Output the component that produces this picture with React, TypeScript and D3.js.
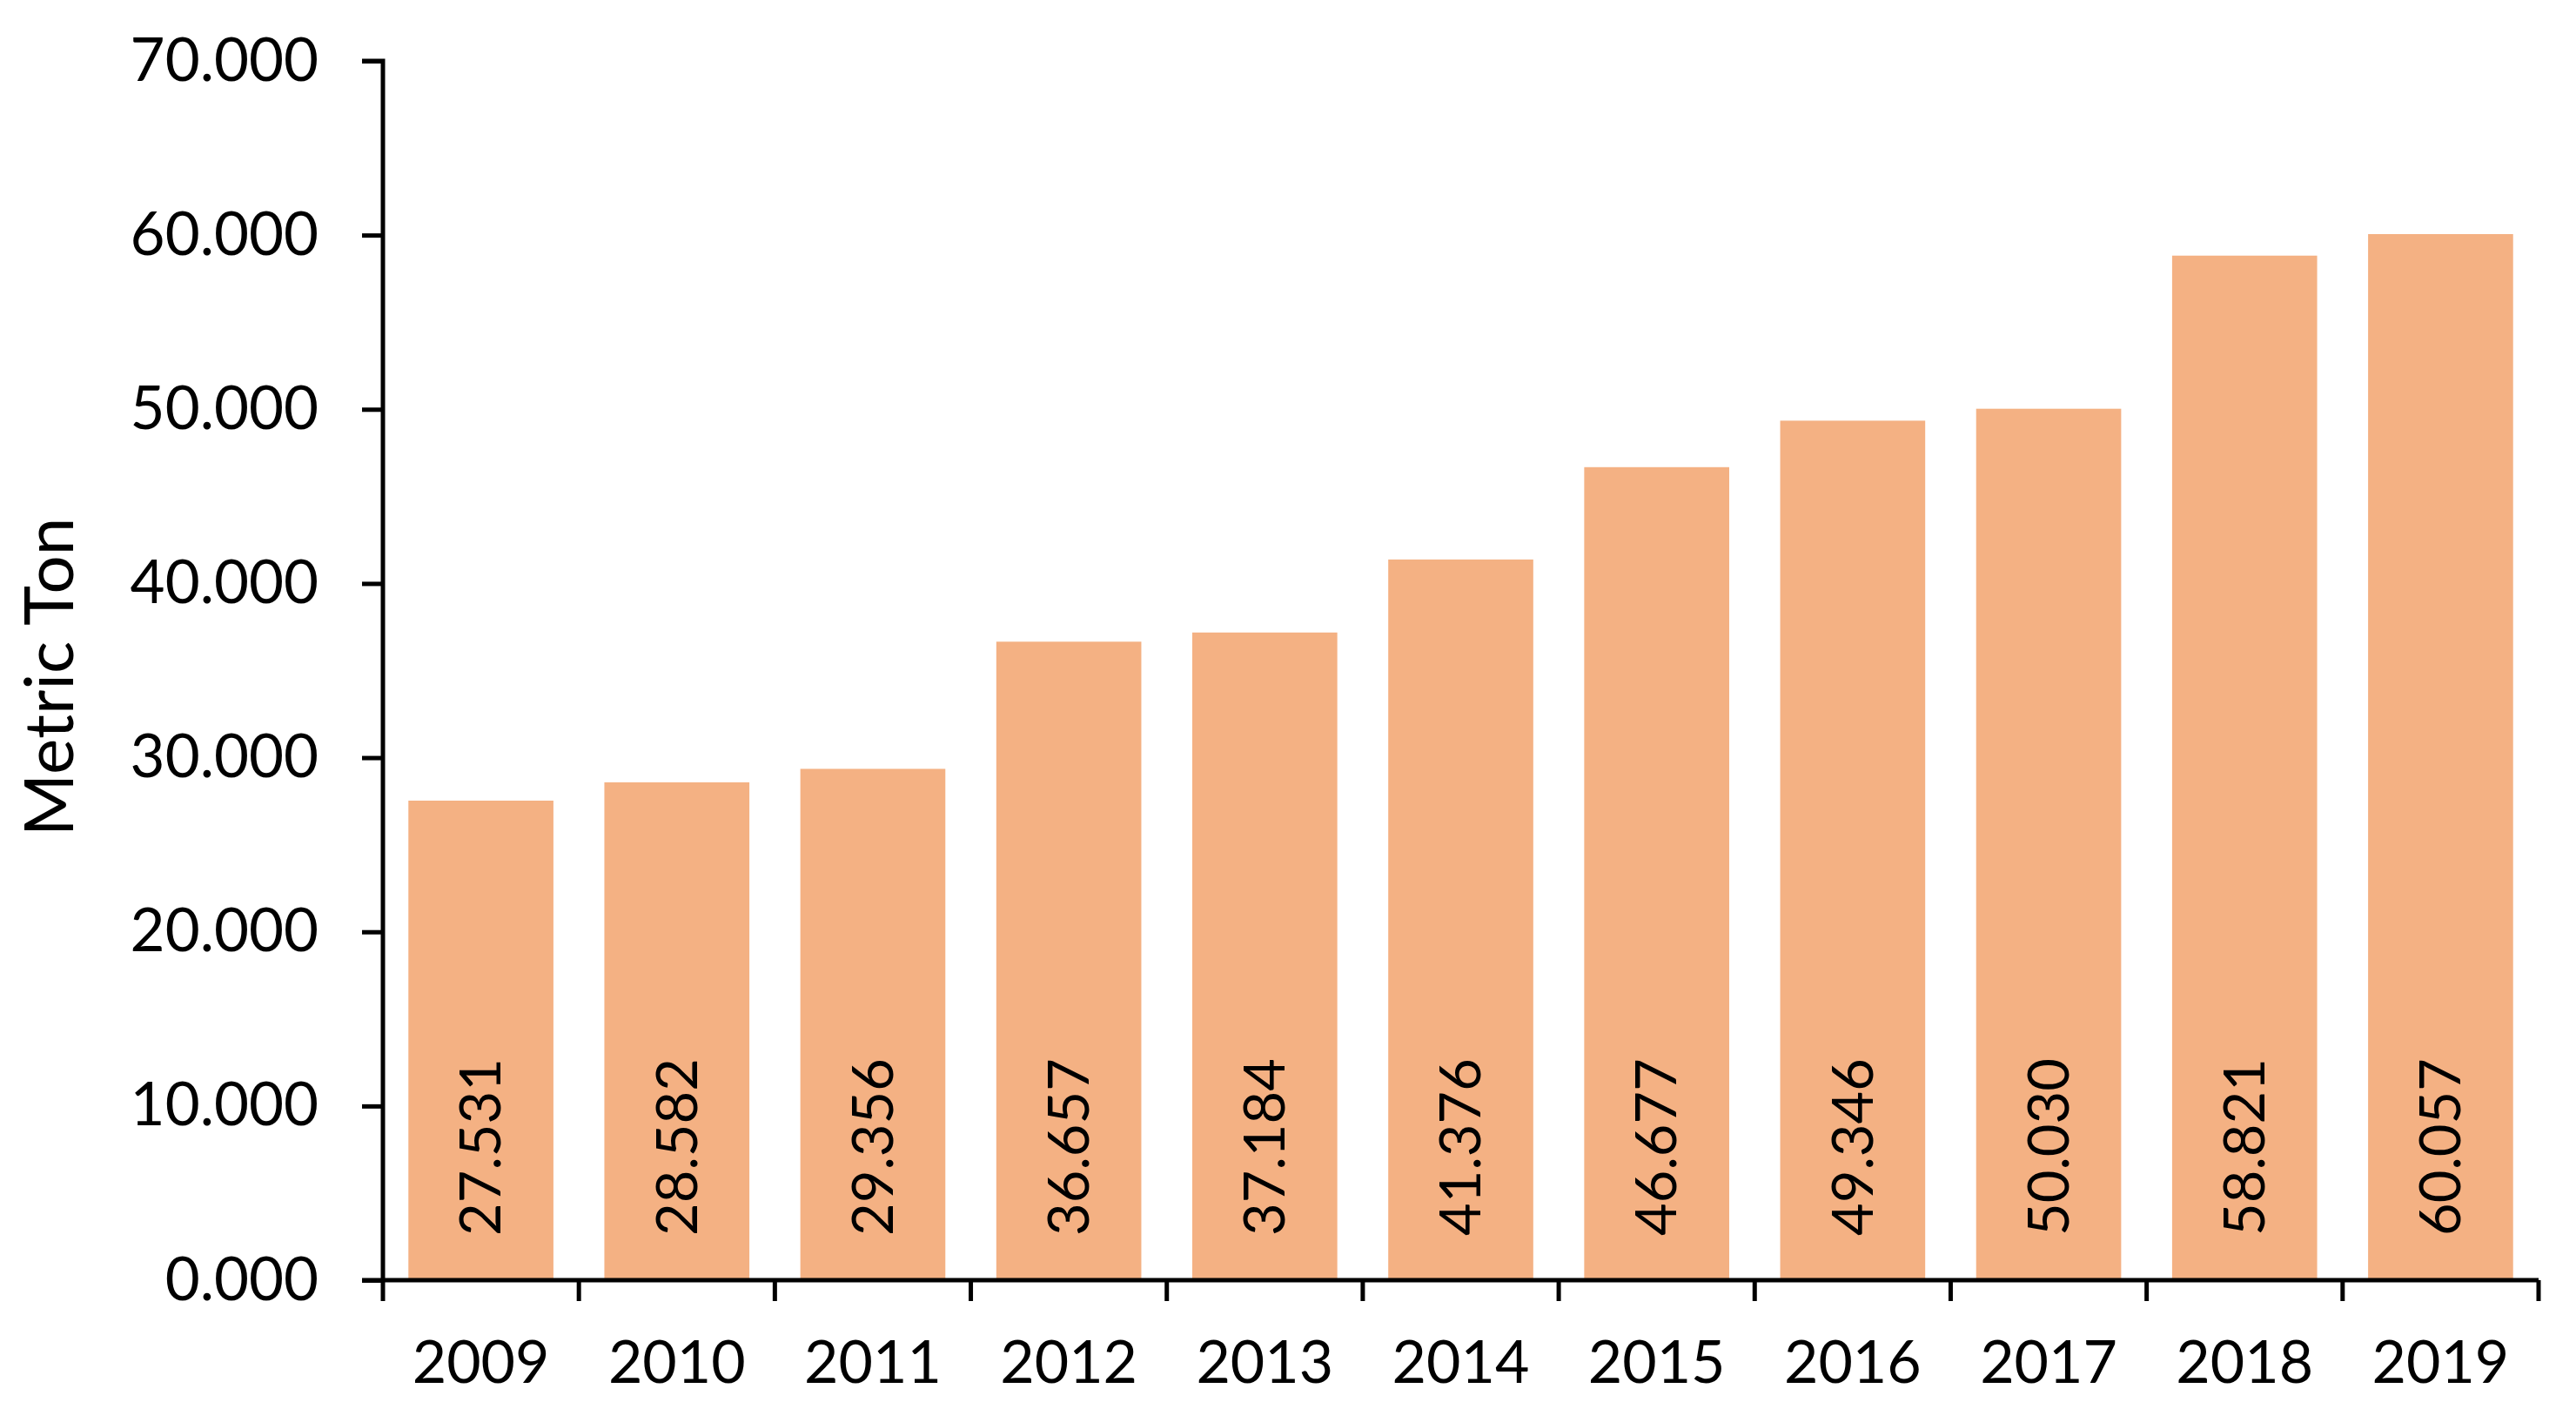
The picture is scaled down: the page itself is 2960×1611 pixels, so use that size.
import React, { useEffect, useRef } from "react";
import * as d3 from "d3";

const years = ["2009", "2010", "2011", "2012", "2013", "2014", "2015", "2016", "2017", "2018", "2019"];
const values = [27.531, 28.582, 29.356, 36.657, 37.184, 41.376, 46.677, 49.346, 50.03, 58.821, 60.057];
const yTicks = [0, 10, 20, 30, 40, 50, 60, 70];
const yTitle = "Metric Ton";

const W = 2960;
const H = 1611;
const FONT = "Lato, 'Open Sans', sans-serif";

export default function App() {
  const ref = useRef<SVGSVGElement>(null);
  useEffect(() => {
    const svg = d3.select(ref.current);
    svg.selectAll("*").remove();
    const left = 440, right = 2917, top = 70, bottom = 1471;
    const x = d3.scaleBand<string>().domain(years).range([left, right]).paddingInner(0.26).paddingOuter(0.13);
    const y = d3.scaleLinear().domain([0, 70]).range([bottom, top]);
    const fmt = (v: number) => v.toFixed(3);

    svg.append("g").selectAll("rect").data(values).join("rect")
      .attr("x", (_, i) => x(years[i])!)
      .attr("width", x.bandwidth())
      .attr("y", (d) => y(d))
      .attr("height", (d) => y(0) - y(d))
      .attr("fill", "#F4B183");

    // value labels
    svg.append("g").selectAll("text").data(values).join("text")
      .attr("transform", (_, i) => `translate(${x(years[i])! + x.bandwidth() / 2},${bottom - 51}) rotate(-90)`)
      .attr("dy", "0.35em")
      .attr("text-anchor", "start")
      .attr("font-family", FONT)
      .attr("font-size", 65)
      .attr("fill", "#000")
      .text((d) => fmt(d));

    // y axis
    const yAxis = d3.axisLeft(y).tickValues(yTicks).tickFormat((d) => fmt(d as number)).tickSize(24).tickPadding(50);
    const gy = svg.append("g").attr("transform", `translate(${left},0)`).call(yAxis);
    gy.selectAll("line").attr("stroke", "#000").attr("stroke-width", 5);
    gy.select(".domain").attr("stroke", "#000").attr("stroke-width", 5).attr("d", `M-24,${top}H0V${bottom}`);
    gy.selectAll("text").attr("font-family", FONT).attr("font-size", 69).attr("fill", "#000");

    // x axis
    const bounds = d3.range(years.length + 1).map((i) => left + i * (right - left) / years.length);
    const gx = svg.append("g");
    gx.append("line").attr("x1", left - 24).attr("x2", right).attr("y1", bottom).attr("y2", bottom)
      .attr("stroke", "#000").attr("stroke-width", 5);
    gx.selectAll("line.tick").data(bounds).join("line").attr("class", "tick")
      .attr("x1", (d) => d).attr("x2", (d) => d).attr("y1", bottom).attr("y2", bottom + 24)
      .attr("stroke", "#000").attr("stroke-width", 5);
    gx.selectAll("text").data(years).join("text")
      .attr("x", (d) => x(d)! + x.bandwidth() / 2)
      .attr("y", 1565)
      .attr("dy", "0.35em")
      .attr("text-anchor", "middle")
      .attr("font-family", FONT)
      .attr("font-size", 68)
      .attr("fill", "#000")
      .text((d) => d);

    svg.append("text")
      .attr("transform", `translate(57,778) rotate(-90)`)
      .attr("dy", "0.35em")
      .attr("text-anchor", "middle")
      .attr("font-family", FONT)
      .attr("font-size", 78)
      .attr("fill", "#000")
      .text(yTitle);
  }, []);
  return (
    <svg ref={ref} width={W} height={H} style={{ position: "absolute", left: 0, top: 0, background: "#fff" }} />
  );
}
